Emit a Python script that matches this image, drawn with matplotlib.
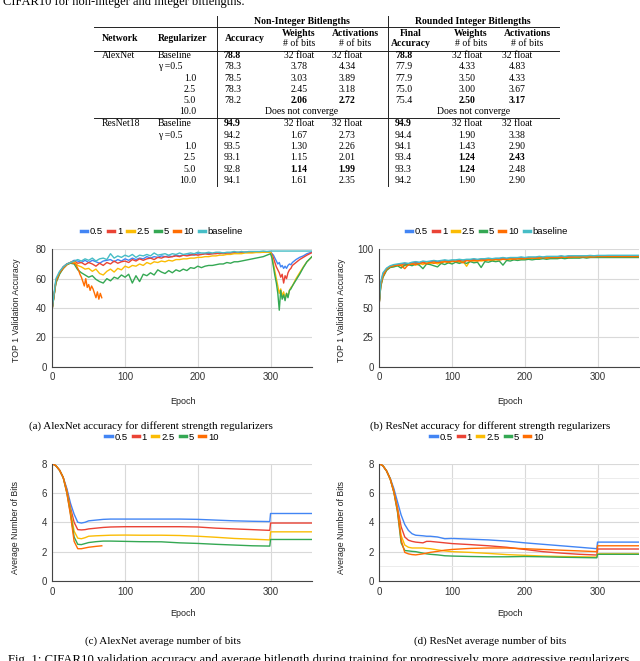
import matplotlib
matplotlib.use("Agg")
import matplotlib.pyplot as plt
from matplotlib.lines import Line2D

W, H = 640, 661
SERIF = "Liberation Serif"
SANS = "Liberation Sans"

# ---------------- table data ----------------
networks = ["AlexNet", "ResNet18"]
regularizers = ["Baseline", "γ =0.5", "1.0", "2.5", "5.0", "10.0"]
alex_rows = [
    ["78.8", "32 float", "32 float", "78.8", "32 float", "32 float"],
    ["78.3", "3.78", "4.34", "77.9", "4.33", "4.83"],
    ["78.5", "3.03", "3.89", "77.9", "3.50", "4.33"],
    ["78.3", "2.45", "3.18", "75.0", "3.00", "3.67"],
    ["78.2", "2.06", "2.72", "75.4", "2.50", "3.17"],
]
resnet_rows = [
    ["94.9", "32 float", "32 float", "94.9", "32 float", "32 float"],
    ["94.2", "1.67", "2.73", "94.4", "1.90", "3.38"],
    ["93.5", "1.30", "2.26", "94.1", "1.43", "2.90"],
    ["93.1", "1.15", "2.01", "93.4", "1.24", "2.43"],
    ["92.8", "1.14", "1.99", "93.3", "1.24", "2.48"],
    ["94.1", "1.61", "2.35", "94.2", "1.90", "2.90"],
]
alex_bold = [(0, 0), (0, 3), (4, 1), (4, 2), (4, 4), (4, 5)]
resnet_bold = [(0, 0), (0, 3), (3, 4), (3, 5), (4, 1), (4, 2), (4, 4)]

# ---------------- chart data ----------------
labels = ["0.5", "1", "2.5", "5", "10", "baseline"]
colors = ["#4285F4", "#EA4335", "#FBBC04", "#34A853", "#FF6D01", "#46BDC6"]

# AlexNet accuracy
ep_a = list(range(0, 301, 5)) + list(range(302, 331, 2)) + [335, 340, 345, 350, 358]
acc_a_05 = [40, 59, 64, 68, 70, 71, 72.5, 72, 71, 72.5,
            71, 72.5, 71.5, 70.5, 72, 72.5, 73, 71.5, 73, 72,
            73.5, 72.5, 74, 73, 74, 73.5, 75, 74, 75, 74.5,
            75.5, 75, 75.5, 75, 76, 75.5, 76, 76, 76.5, 76,
            77, 76.5, 77, 77, 77, 77.5, 77, 77.5, 77.5, 77.5,
            78, 77.5, 78, 78, 78, 78, 78, 78.2, 78, 78.3,
            78,
            77, 76, 74, 72, 70, 71, 68, 69, 67, 68.5, 67, 69, 70, 69.5, 71,
            73, 74.5, 75.5, 77, 78.3]
acc_a_1 = [40, 58, 64, 68, 70, 71, 72, 70.5, 71, 69.5,
           71, 70, 68.5, 70.5, 69, 71, 70, 72, 70.5, 71.5,
           72, 71, 73, 72, 73.5, 72.5, 73.5, 74, 73, 74.5,
           74, 75, 74.5, 75, 75.5, 75, 76, 75.5, 76, 76.5,
           76, 76.5, 77, 76.5, 77, 77, 77.5, 77, 77.5, 77.5,
           77.5, 78, 77.5, 78, 78, 78, 78, 78, 78, 78.2,
           78,
           76.5, 74, 71, 68, 66, 64, 61, 63, 57, 62, 60, 64, 66, 67, 69,
           71, 73, 74.5, 76, 78]
acc_a_25 = [40, 58, 64, 67, 69.5, 71, 71.5, 69, 68, 66.5,
            67, 65, 66.5, 63.5, 62.5, 65, 66.5, 64.5, 67, 66,
            68.5, 67.5, 69, 68.5, 70, 69, 71, 70, 71.5, 71,
            72, 71.5, 72.5, 72, 73, 73, 73.5, 73.5, 74, 74,
            74.5, 74.5, 75, 75, 75.5, 75.5, 76, 76, 76.5, 76.5,
            77, 77, 77, 77.5, 77.5, 77.5, 77.8, 77.8, 78, 78,
            78,
            75, 70, 65, 60, 55, 50, 53, 48, 51, 46.5, 50, 48, 52, 54, 55,
            60, 64, 68, 71.5, 75.5]
acc_a_5 = [40, 57, 63, 67, 69.5, 70.5, 70, 66, 64, 62.5,
           61, 62, 59.5, 58, 57, 60, 58.5, 61, 60, 62.5,
           61, 63, 57, 62, 58, 63, 62, 64, 62.5, 66,
           64.5, 63.5, 65.5, 64, 66, 65, 66.5, 65.5, 67.5, 67,
           68.5, 67.5, 68.5, 69, 69, 69.5, 70, 70, 71, 70.5,
           71.5, 71.5, 72, 72.5, 73, 73.5, 74, 74.5, 75, 76,
           77,
           74, 68, 62, 57, 50, 38.5, 52, 46, 49, 45, 50, 47, 52, 53, 55,
           59, 63, 67.5, 71.5, 75.5]
acc_a_base = [40, 60, 65, 68, 70, 71, 72, 73, 72, 73.5,
              72.5, 74, 72, 73.5, 74, 73, 77, 74, 75.5, 74.5,
              76, 75, 76.5, 74.5, 76, 75.5, 76.5, 75.5, 77.5, 76,
              76.5, 77, 76, 77, 76.5, 77.5, 76.5, 77, 77.5, 77,
              78, 77.5, 77.5, 78, 77.5, 78, 78, 77.5, 78, 78,
              78.5, 78, 78.5, 78, 78.5, 78.5, 78.5, 78.5, 78.8, 78.5,
              78.8,
              78.8, 78.8, 78.8, 78.8, 78.8, 78.8, 78.8, 78.8, 78.8, 78.8,
              78.8, 78.8, 78.8, 78.8, 78.8,
              78.8, 78.8, 78.8, 78.8, 78.8]
ep_a10 = [0, 5, 10, 15, 20, 25, 30] + list(range(32, 69, 2))
acc_a_10 = [40, 58, 64, 67, 69.5, 71, 70.5,
            70, 68, 66, 63, 61, 58, 55, 60, 54, 56, 52, 55, 53, 50, 47, 51, 46, 50, 47]

# ResNet accuracy
ep_b = [0, 2] + list(range(5, 356, 5)) + [358]
acc_b_05 = [55, 71, 79, 83.5, 85.5, 86.5, 87, 87.5, 88, 87.5,
            88.5, 89, 88.5, 89.5, 89, 89.5, 90, 89.5, 90, 90.5,
            90, 90.5, 90.5, 91, 90.5, 91, 91, 91.5, 91, 91.5,
            91.5, 92, 91.5, 92, 92, 92.5, 92, 92.5, 92.5, 92.5,
            93, 92.5, 93, 93, 93, 93.5, 93, 93.5, 93.5, 93.5,
            93.5, 94, 93.5, 94, 94, 94, 94, 94, 94, 94.2,
            94, 94, 94.2, 94.2, 94.2, 94.2, 94.2, 94.2, 94.2, 94.2,
            94.2, 94.2, 94.2, 94.2]
acc_b_1 = [55, 70, 78, 83, 85, 86, 86.5, 87, 87.5, 86.5,
           88, 88.5, 87.5, 89, 88, 89, 89.5, 88.5, 89.5, 90,
           89.5, 90, 90, 90.5, 89.5, 90.5, 90.5, 91, 90.5, 91,
           91, 91.5, 91, 91.5, 91.5, 92, 91.5, 92, 92, 92,
           92.5, 92, 92.5, 92.5, 92.5, 93, 92.5, 93, 93, 93,
           93, 93.5, 93, 93.5, 93.5, 93.5, 93.5, 93.5, 93.5, 93.5,
           93.5, 93.8, 93.8, 93.8, 93.8, 93.8, 93.8, 93.8, 93.8, 93.8,
           93.8, 93.8, 93.8, 93.8]
acc_b_25 = [55, 69, 77, 82.5, 85, 85.5, 86, 86.5, 86, 87,
            87.5, 86.5, 88, 87, 88.5, 88, 89, 87.5, 89, 89.5,
            88.5, 89.5, 90, 89, 90, 85.5, 90.5, 90, 90.5, 90,
            90.5, 91, 90.5, 91, 91, 91.5, 91, 91.5, 91.5, 92,
            91.5, 92, 92, 92.5, 92, 92.5, 92.5, 92.5, 93, 92.5,
            93, 93, 93, 93, 93, 93.5, 93, 93.5, 93.5, 93.5,
            93.5, 93.5, 93.5, 93.5, 93.5, 93.5, 93.5, 93.5, 93.5, 93.5,
            93.5, 93.5, 93.5, 93.5]
acc_b_5 = [55, 68, 76, 82, 84.5, 85, 86, 84, 86.5, 87,
           86, 87.5, 86.5, 83.5, 87.5, 87, 86, 85, 88, 87,
           88.5, 87.5, 89, 88, 89, 88, 89.5, 88.5, 89, 84.5,
           89.5, 89, 90, 89.5, 90, 86.5, 90.5, 90, 91, 90.5,
           91, 91, 91.5, 91, 91.5, 91.5, 92, 91.5, 92, 92,
           92, 92.5, 92, 92.5, 92.5, 92.5, 92.5, 93, 92.5, 93,
           93, 93, 93, 93, 93, 93, 93, 93, 93, 93,
           93, 93, 93, 93]
acc_b_10 = [55, 69, 77, 83, 85, 86, 86.5, 86, 83.5, 87,
            87.5, 87, 88, 88.5, 87.5, 89, 88, 89, 88.5, 89.5,
            89, 90, 89.5, 90, 88.5, 90.5, 90, 90.5, 90, 91,
            90.5, 91, 91, 91.5, 91, 91.5, 91.5, 92, 91.5, 92,
            92, 92, 92.5, 92.5, 92.5, 92.5, 93, 92.5, 93, 93,
            93, 93, 93.5, 93, 93.5, 93.5, 93.5, 93.5, 93.5, 93.5,
            93.5, 93.8, 93.8, 93.8, 93.8, 93.8, 93.8, 93.8, 93.8, 93.8,
            93.8, 93.8, 93.8, 93.8]
acc_b_base = [55, 72, 80, 84, 86, 87, 87.5, 88, 88.5, 88,
              89, 89.5, 89, 90, 89.5, 90, 90.5, 90, 90.5, 91,
              90.5, 91, 91, 91.5, 91, 91.5, 91.5, 92, 91.5, 92,
              92, 92.5, 92, 92.5, 92.5, 93, 92.5, 93, 93, 93,
              93.5, 93, 93.5, 93.5, 93.5, 94, 93.5, 94, 94, 94,
              94, 94.5, 94, 94.5, 94.5, 94.5, 94.5, 94.5, 94.5, 94.8,
              94.5, 94.8, 94.8, 94.8, 94.9, 94.9, 94.9, 94.9, 94.9, 94.9,
              94.9, 94.9, 94.9, 94.9]

# AlexNet average bits
ep_c = [0, 5, 10, 15, 20, 25, 30, 35, 40, 45, 50, 60, 70, 80, 100, 120, 150,
        175, 200, 225, 250, 275, 299, 300, 358]
bits_c_05 = [8.0, 7.85, 7.55, 7.05, 6.3, 5.3, 4.55, 4.0, 3.95, 4.0, 4.1, 4.15, 4.2,
             4.22, 4.22, 4.22, 4.22, 4.22, 4.2, 4.15, 4.1, 4.07, 4.05, 4.6, 4.6]
bits_c_1 = [8.0, 7.85, 7.55, 7.05, 6.2, 5.0, 4.0, 3.5, 3.48, 3.5, 3.55, 3.6, 3.65,
            3.68, 3.7, 3.7, 3.7, 3.7, 3.68, 3.6, 3.55, 3.5, 3.45, 3.95, 3.95]
bits_c_25 = [8.0, 7.85, 7.55, 7.05, 6.1, 4.8, 3.4, 2.92, 2.88, 2.95, 3.05, 3.08, 3.1,
             3.12, 3.13, 3.12, 3.12, 3.1, 3.05, 2.98, 2.9, 2.85, 2.8, 3.35, 3.35]
bits_c_5 = [8.0, 7.85, 7.55, 7.05, 6.0, 4.6, 3.0, 2.5, 2.48, 2.55, 2.62, 2.68, 2.72,
            2.72, 2.7, 2.68, 2.67, 2.6, 2.56, 2.5, 2.45, 2.4, 2.38, 2.83, 2.83]
ep_c10 = [0, 5, 10, 15, 20, 25, 30, 35, 40, 45, 50, 60, 68]
bits_c_10 = [8.0, 7.85, 7.55, 7.05, 6.0, 4.5, 2.7, 2.2, 2.2, 2.25, 2.3, 2.36, 2.4]

# ResNet average bits
ep_d = [0, 5, 10, 15, 20, 25, 30, 35, 40, 45, 50, 60, 65, 70, 80, 90, 100, 125,
        150, 175, 200, 225, 250, 275, 299, 300, 358]
bits_d_05 = [8.0, 7.85, 7.5, 7.0, 6.3, 5.4, 4.5, 3.85, 3.45, 3.22, 3.12, 3.08, 3.05,
             3.05, 3.0, 2.88, 2.9, 2.85, 2.8, 2.72, 2.6, 2.5, 2.4, 2.3, 2.2, 2.65, 2.65]
bits_d_1 = [8.0, 7.85, 7.5, 6.95, 6.15, 5.0, 3.7, 3.0, 2.78, 2.7, 2.65, 2.6, 2.7,
            2.7, 2.65, 2.6, 2.55, 2.48, 2.4, 2.3, 2.15, 2.0, 1.9, 1.82, 1.77, 2.18, 2.18]
bits_d_25 = [8.0, 7.85, 7.5, 6.95, 6.1, 4.9, 3.1, 2.45, 2.3, 2.25, 2.25, 2.25, 2.22,
             2.2, 2.12, 2.05, 2.0, 1.95, 1.88, 1.8, 1.75, 1.7, 1.67, 1.65, 1.63, 1.85, 1.85]
bits_d_5 = [8.0, 7.85, 7.5, 6.95, 6.05, 4.7, 2.6, 2.08, 2.05, 2.02, 2.0, 1.9, 1.85,
            1.82, 1.78, 1.72, 1.7, 1.67, 1.65, 1.65, 1.67, 1.65, 1.62, 1.6, 1.58, 1.82, 1.82]
bits_d_10 = [8.0, 7.85, 7.5, 6.95, 6.05, 4.8, 2.8, 1.95, 1.85, 1.8, 1.78, 1.85, 1.9,
             1.95, 2.02, 2.1, 2.15, 2.22, 2.25, 2.25, 2.2, 2.15, 2.1, 2.05, 2.0, 2.4, 2.4]


def fx(x):
    return x / W


def fy(y):
    return 1 - y / H


fig = plt.figure(figsize=(W / 100, H / 100), dpi=100)

# ---------------- top text and table ----------------
fig.text(fx(3), fy(5), "CIFAR10 for non-integer and integer bitlengths.",
         family=SERIF, fontsize=9, va="baseline")

TFS = 7
line_kw = dict(color="#222222", lw=0.7, transform=fig.transFigure)
for y in [26.7, 50.7, 118.3]:
    fig.add_artist(Line2D([fx(94), fx(559)], [fy(y), fy(y)], **line_kw))
for x in [217, 388]:
    fig.add_artist(Line2D([fx(x), fx(x)], [fy(16), fy(186)], **line_kw))


def ttext(x, y, s, ha="center", bold=False):
    fig.text(fx(x), fy(y), s, family=SERIF, fontsize=TFS, ha=ha, va="center",
             weight="bold" if bold else "normal")


ttext(302, 21, "Non-Integer Bitlengths", bold=True)
ttext(473, 21, "Rounded Integer Bitlengths", bold=True)
ttext(120, 38.5, "Network", bold=True)
ttext(183, 38.5, "Regularizer", bold=True)
ttext(245, 38.5, "Accuracy", bold=True)
for x, top, bottom in [(299, "Weights", "# of bits"), (355, "Activations", "# of bits"),
                       (411, "Final", "Accuracy"), (471, "Weights", "# of bits"),
                       (527, "Activations", "# of bits")]:
    ttext(x, 33, top, bold=True)
    ttext(x, 44, bottom, bold=(bottom == "Accuracy"))

col_x = [224, 299, 347, 395, 467, 517]
col_ha = ["left", "center", "center", "left", "center", "center"]
row_step = 11.25
for name, rows, bold, y0 in [(networks[0], alex_rows, alex_bold, 55.7),
                             (networks[1], resnet_rows, resnet_bold, 124)]:
    ttext(102, y0, name, ha="left")
    for i, reg in enumerate(regularizers):
        y = y0 + i * row_step
        if i < 2:
            ttext(158, y, reg, ha="left")
        else:
            ttext(196, y, reg, ha="right")
        if i < len(rows):
            for j, val in enumerate(rows[i]):
                ttext(col_x[j], y, val, ha=col_ha[j], bold=(i, j) in bold)
        else:
            ttext(302, y, "Does not converge")
            ttext(474, y, "Does not converge")

# ---------------- charts ----------------
AX_W = fx(312) - fx(52.3)
AX_H = fy(249.3) - fy(366.7)


def make_axes(left, bottom_px, ymax, yticks, minor=None):
    ax = fig.add_axes([fx(left), fy(bottom_px), AX_W, AX_H])
    ax.set_xlim(0, 357)
    ax.set_ylim(0, ymax)
    ax.set_xticks([0, 100, 200, 300])
    ax.set_yticks(yticks)
    if minor is not None:
        ax.set_yticks(minor, minor=True)
        ax.grid(True, which="minor", axis="y", color="#ececec", lw=0.7)
    ax.grid(True, which="major", color="#d9d9d9", lw=0.8)
    ax.set_axisbelow(True)
    for s in ["top", "right"]:
        ax.spines[s].set_visible(False)
    for s in ["left", "bottom"]:
        ax.spines[s].set_color("#444444")
        ax.spines[s].set_linewidth(0.8)
    ax.tick_params(which="both", length=0, labelsize=7, colors="#333333", pad=4)
    for lab in ax.get_xticklabels() + ax.get_yticklabels():
        lab.set_family(SANS)
    return ax


ax_a = make_axes(52.3, 366.7, 80, [0, 20, 40, 60, 80])
ax_b = make_axes(379.3, 366.7, 100, [0, 25, 50, 75, 100])
ax_c = make_axes(52.3, 581, 8, [0, 2, 4, 6, 8])
ax_d = make_axes(379.3, 581, 8, [0, 2, 4, 6, 8], minor=[1, 3, 5, 7])

lw = 1.0
for ys, c in zip([acc_a_05, acc_a_1, acc_a_25, acc_a_5], colors[:4]):
    ax_a.plot(ep_a, ys, color=c, lw=lw)
ax_a.plot(ep_a10, acc_a_10, color=colors[4], lw=lw)
ax_a.plot(ep_a, acc_a_base, color=colors[5], lw=lw)

for ys, c in zip([acc_b_05, acc_b_1, acc_b_25, acc_b_5, acc_b_10, acc_b_base], colors):
    ax_b.plot(ep_b, ys, color=c, lw=lw)

for ys, c in zip([bits_c_05, bits_c_1, bits_c_25, bits_c_5], colors[:4]):
    ax_c.plot(ep_c, ys, color=c, lw=lw)
ax_c.plot(ep_c10, bits_c_10, color=colors[4], lw=lw)

for ys, c in zip([bits_d_05, bits_d_1, bits_d_25, bits_d_5, bits_d_10], colors[:5]):
    ax_d.plot(ep_d, ys, color=c, lw=lw)

# legends (top row with baseline, bottom row without)
for cx, cy, n in [(162, 232, 6), (487, 232, 6), (162, 437, 5), (487, 437, 5)]:
    handles = [Line2D([], [], color=c, lw=2.5) for c in colors[:n]]
    fig.legend(handles, labels[:n], loc="center", bbox_to_anchor=(fx(cx), fy(cy)),
               ncol=n, frameon=False, handlelength=0.65, handletextpad=0.3,
               columnspacing=0.55, borderpad=0, prop={"family": SANS, "size": 6.8})

# axis titles
for x, y, s in [(17, 310, "TOP 1 Validation Accuracy"), (341.7, 310, "TOP 1 Validation Accuracy"),
                (16, 527, "Average Number of Bits"), (341.7, 527, "Average Number of Bits")]:
    fig.text(fx(x), fy(y), s, family=SANS, fontsize=6.3, rotation=90,
             ha="center", va="center", color="#222222")
for x, y in [(183, 401), (510, 401), (183, 614), (510, 614)]:
    fig.text(fx(x), fy(y), "Epoch", family=SANS, fontsize=6.5, ha="center",
             va="center", color="#222222")

# sub captions
for x, y, s in [(151, 426, "(a) AlexNet accuracy for different strength regularizers"),
                (490, 426, "(b) ResNet accuracy for different strength regularizers"),
                (163, 641, "(c) AlexNet average number of bits"),
                (490, 641, "(d) ResNet average number of bits")]:
    fig.text(fx(x), fy(y), s, family=SERIF, fontsize=7.9, ha="center", va="center")

fig.text(fx(8), fy(654), "Fig. 1: CIFAR10 validation accuracy and average bitlength "
         "during training for progressively more aggressive regularizers.",
         family=SERIF, fontsize=9.2, ha="left", va="top")

fig.savefig("out.png", dpi=100)
